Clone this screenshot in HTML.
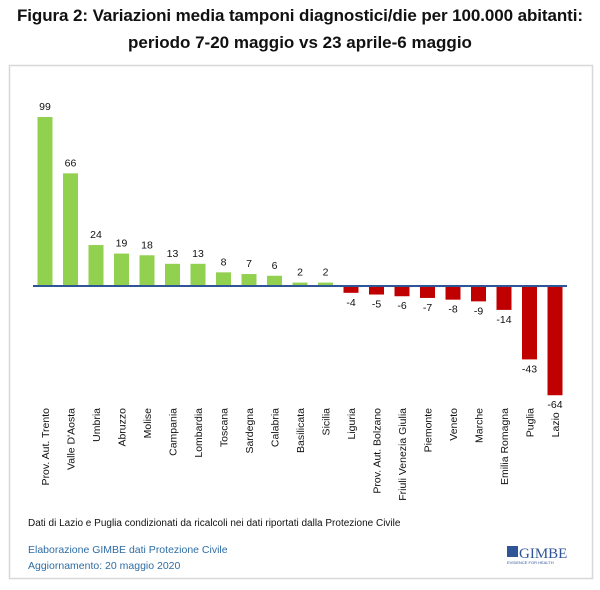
<!DOCTYPE html>
<html><head><meta charset="utf-8"><style>
body{margin:0;width:600px;height:585px;background:#fff;font-family:"Liberation Sans",sans-serif;overflow:hidden}
</style></head><body>
<svg width="600" height="585" xmlns="http://www.w3.org/2000/svg" font-family="Liberation Sans, sans-serif">
<text x="300" y="21" text-anchor="middle" font-size="17" font-weight="bold" fill="#111" textLength="566">Figura 2: Variazioni media tamponi diagnostici/die per 100.000 abitanti:</text>
<text x="300" y="48" text-anchor="middle" font-size="17" font-weight="bold" fill="#111">periodo 7-20 maggio vs 23 aprile-6 maggio</text>
<rect x="9.5" y="65.5" width="583" height="513" fill="#fff" stroke="#d8d8d8" stroke-width="1.5"/>
<g id="bars"></g>
<line x1="33" y1="286" x2="567" y2="286" stroke="#2f5597" stroke-width="2"/>
<text x="28" y="526" font-size="10" fill="#111">Dati di Lazio e Puglia condizionati da ricalcoli nei dati riportati dalla Protezione Civile</text>
<text x="28" y="553" font-size="10.5" fill="#2e6da4">Elaborazione GIMBE dati Protezione Civile</text>
<text x="28" y="569" font-size="10.5" fill="#2e6da4">Aggiornamento: 20 maggio 2020</text>
<rect x="507" y="546" width="11" height="11" fill="#2f5597"/>
<text x="519" y="558" font-size="15" font-family="Liberation Serif, serif" fill="#2f5597">GIMBE</text>
<text x="507" y="564" font-size="4" fill="#2f5597">EVIDENCE FOR HEALTH</text>
</svg>
<script>
var d=[["Prov. Aut. Trento",99],["Valle D'Aosta",66],["Umbria",24],["Abruzzo",19],["Molise",18],["Campania",13],["Lombardia",13],["Toscana",8],["Sardegna",7],["Calabria",6],["Basilicata",2],["Sicilia",2],["Liguria",-4],["Prov. Aut. Bolzano",-5],["Friuli Venezia Giulia",-6],["Piemonte",-7],["Veneto",-8],["Marche",-9],["Emilia Romagna",-14],["Puglia",-43],["Lazio",-64]];
var g=document.getElementById('bars'),s="",base=286,k=1.707,p=(555-45)/20;
d.forEach(function(e,i){var cx=45+i*p,v=e[1],h=Math.abs(v)*k;
if(v>0){s+='<rect x="'+(cx-7.5)+'" y="'+(base-h)+'" width="15" height="'+h+'" fill="#92d050"/>';
s+='<text x="'+cx+'" y="'+(base-h-7)+'" text-anchor="middle" font-size="10.5" fill="#111">'+v+'</text>';}
else{s+='<rect x="'+(cx-7.5)+'" y="'+base+'" width="15" height="'+h+'" fill="#c00000"/>';
s+='<text x="'+cx+'" y="'+(base+h+13)+'" text-anchor="middle" font-size="10.5" fill="#111">'+v+'</text>';}
var ty=v<-60?(base+h+17):408;
s+='<text transform="translate('+(cx+4)+','+ty+') rotate(-90)" text-anchor="end" font-size="10.5" fill="#111">'+e[0].replace("'","&#39;")+'</text>';});
g.innerHTML=s;
</script>
</body></html>
